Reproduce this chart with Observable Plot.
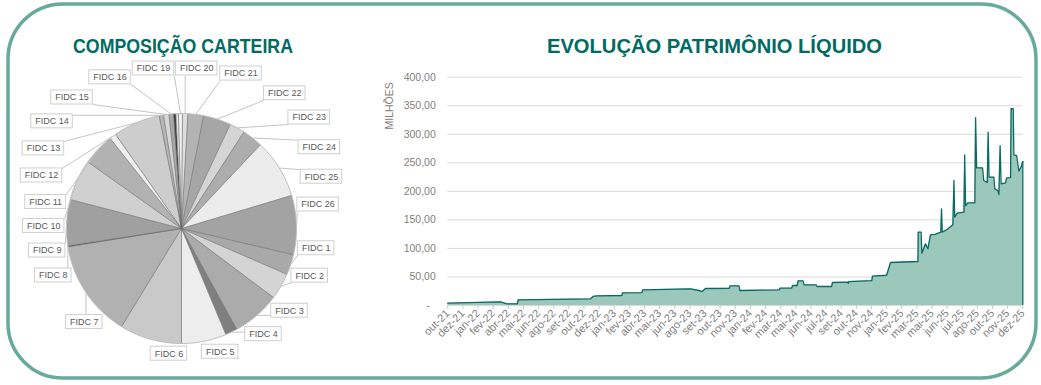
<!DOCTYPE html>
<html><head><meta charset="utf-8">
<script src="https://cdn.jsdelivr.net/npm/d3@7"></script>
<script src="https://cdn.jsdelivr.net/npm/@observablehq/plot@0.6"></script>
<style>
html,body{margin:0;padding:0;background:#fff;}
#root{position:relative;width:1041px;height:385px;overflow:hidden;font-family:"Liberation Sans",Arial,sans-serif;background:#fff;}
#pie{position:absolute;left:0;top:60px;}
#area{position:absolute;left:370px;top:60px;}
</style></head><body><div id="root"><div id="pie"></div><div id="area"></div></div>
<script>
// ---------------- DATA ----------------
// Portfolio composition (share of portfolio, %), in pie order
const fidcNames = ["FIDC 1","FIDC 2","FIDC 3","FIDC 4","FIDC 5","FIDC 6","FIDC 7","FIDC 8","FIDC 9","FIDC 10",
  "FIDC 11","FIDC 12","FIDC 13","FIDC 14","FIDC 15","FIDC 16","FIDC 17","FIDC 18","FIDC 19","FIDC 20",
  "FIDC 21","FIDC 22","FIDC 23","FIDC 24","FIDC 25","FIDC 26"];
const fidcShares = [2.86, 3.72, 6.78, 1.67, 6.31, 8.72, 13.72, 0.14, 6.47, 5.78,
  4.50, 0.94, 6.61, 0.61, 0.75, 0.64, 0.33, 0.36, 0.56, 0.75,
  2.19, 3.89, 2.17, 2.89, 8.33, 8.31];
const unlabelledFidc = ["FIDC 17","FIDC 18"];

// Net asset evolution (R$ millions); position along the category axis in tick-interval units
const plTickLabels = ["out-21","dez-21","jan-22","fev-22","abr-22","mai-22","jun-22","ago-22","set-22","out-22",
  "dez-22","jan-23","fev-23","abr-23","mai-23","jun-23","ago-23","set-23","out-23","nov-23",
  "jan-24","fev-24","mar-24","mai-24","jun-24","jul-24","set-24","out-24","nov-24","jan-25",
  "fev-25","mar-25","mai-25","jun-25","jul-25","ago-25","out-25","nov-25","dez-25"];
const plPos = [0,3.48,3.92,4.6,4.65,9.43,9.6,9.87,11.5,11.55,12.83,12.88,16.04,16.59,16.81,17.03,18.6,18.66,19.25,19.3,
  21.9,21.96,22.73,22.78,23.08,23.15,23.48,23.55,24.35,24.4,25.37,25.42,26.42,26.46,26.5,28.02,28.07,29.0,29.26,31.07,
  31.09,31.28,31.33,31.57,31.73,31.9,32.2,32.58,32.63,32.68,33.0,33.38,33.45,33.5,33.67,34.11,34.16,34.22,34.37,34.83,
  34.88,34.95,35.34,35.42,35.65,35.71,35.77,36.09,36.15,36.35,36.42,36.5,36.57,36.86,36.93,37.19,37.23,37.37,37.41,37.59,
  37.74,37.9,38.0];
const plValues = [4.1,6.4,2.9,2.9,9.9,11.7,15.8,17,17.5,22.2,22.5,27.4,29.2,26.3,24.5,29.8,30.2,34.5,34.5,26.3,
  27.4,30.4,30.4,35.0,35.0,43.2,43.2,36.2,36.0,33.3,33.3,40.3,40.9,38.5,42.0,43.5,51.4,53.0,75.3,77.1,
  128.5,128.5,91.7,108,99.3,123.8,124.5,128.5,169.3,128.5,133.2,141.4,219,154.8,161.8,163.5,264,174.6,179.8,180,
  329.3,241.1,241.1,219,215.5,303.7,224.8,224.8,204.3,201.4,194.4,280.2,213.2,215,223.6,224,344.7,344.7,264,262.8,
  235.4,243.6,252.3];
const yTicks = [0,50,100,150,200,250,300,350,400];

// ---------------- STYLE ----------------
const sliceGrays = ["#a9a9a9","#d4d4d4","#ababab","#7f7f7f","#ededed","#c9c9c9","#b1b1b1","#505050","#a0a0a0","#d0d0d0",
  "#b2b2b2","#efefef","#cdcdcd","#b5b5b5","#d8d8d8","#a8a8a8","#3c3c3c","#e6e6e6","#f2f2f2","#dedede",
  "#b3b3b3","#a6a6a6","#d5d5d5","#adadad","#ececec","#a3a3a3"];
const TEAL = "#006a63";
const FONT = "Liberation Sans, Arial, sans-serif";

const W = 1041, H = 385;
const root = document.getElementById("root");

// ---------------- PIE ----------------
const R = 115;
const START = 103.2 * Math.PI / 180;
const arcs = d3.pie().sort(null).value(d => d).startAngle(START).endAngle(START + 2 * Math.PI)(fidcShares);
const slices = arcs.map((a, i) => ({name: fidcNames[i], color: sliceGrays[i], a0: a.startAngle, a1: a.endAngle}));
const polyRows = [];
for (const s of slices) {
  polyRows.push({name: s.name, color: s.color, x: 0, y: 0});
  const n = Math.max(2, Math.ceil((s.a1 - s.a0) / (Math.PI / 360)));
  for (let k = 0; k <= n; k++) {
    const a = s.a0 + (s.a1 - s.a0) * k / n;
    polyRows.push({name: s.name, color: s.color, x: R * Math.sin(a), y: R * Math.cos(a)});
  }
}
const edges = slices.map(s => ({x2: R * Math.sin(s.a0), y2: R * Math.cos(s.a0)}));
const rim = d3.range(0, 361).map(d => ({x: R * Math.sin(d * Math.PI / 180), y: R * Math.cos(d * Math.PI / 180)}));

// label layout: spread labels angularly around the pie so that their boxes do not collide
const ctx = document.createElement("canvas").getContext("2d");
const LFS = 9;
ctx.font = `${LFS}px "Liberation Sans"`;
const PW = 360, PH = 320, CX = 181, CY = 168;
const xMin = -CX, xMax = PW - CX, yMin = -(PH - CY), yMax = CY;
const BH = 14;
const BIAS = -10 * Math.PI / 180;           // labels sit slightly counter-clockwise of their slices
const gapAt = t => 2 + 35 * Math.max(0, Math.min(1, (Math.cos(t) - 0.2) / 0.5));
const dist = (t, w) => R + gapAt(t) + Math.abs(Math.sin(t)) * w / 2 + Math.abs(Math.cos(t)) * BH / 2;
const labs = slices.filter(s => !unlabelledFidc.includes(s.name)).map(s => {
  const m = (s.a0 + s.a1) / 2;
  return {name: s.name, m, t: m + BIAS, a: m + BIAS, w: ctx.measureText(s.name).width + 8};
});
const needGap = (t, wa, wb) => {
  const d = (dist(t, wa) + dist(t, wb)) / 2;
  const c = Math.abs(Math.cos(t)) + 1e-6, s = Math.abs(Math.sin(t)) + 1e-6;
  return Math.min(((wa + wb) / 2 + 5) / (d * c), (BH + 11) / (d * s));
};
const N = labs.length;
for (let it = 0; it < 3000; it++) {
  for (const l of labs) l.a += 0.01 * (l.t - l.a);
  for (let i = 0; i < N; i++) {
    const A = labs[i], B = labs[(i + 1) % N];
    const bA = i === N - 1 ? B.a + 2 * Math.PI : B.a;
    const gap = bA - A.a;
    const need = needGap((A.a + bA) / 2, A.w, B.w);
    if (gap < need) { const s = (need - gap) / 2; A.a -= s; B.a += s; }
  }
}
const boxes = labs.map(l => {
  const d = dist(l.a, l.w);
  let x = d * Math.sin(l.a), y = d * Math.cos(l.a);
  x = Math.max(xMin + l.w / 2 + 2, Math.min(xMax - l.w / 2 - 2, x));
  y = Math.max(yMin + BH / 2 + 2, Math.min(yMax - BH / 2 - 1, y));
  return {name: l.name, m: l.m, w: l.w, x, y, x1: x - l.w / 2, x2: x + l.w / 2, y1: y - BH / 2, y2: y + BH / 2};
});
const leaders = boxes.map(b => {
  const ax = R * Math.sin(b.m), ay = R * Math.cos(b.m);
  const px = Math.max(b.x1, Math.min(ax, b.x2));
  const py = Math.max(b.y1, Math.min(ay, b.y2));
  return {x1: ax, y1: ay, x2: px, y2: py, len: Math.hypot(px - ax, py - ay)};
}).filter(d => d.len > 10);

const piePlot = Plot.plot({
  width: PW, height: PH, margin: 0,
  x: {domain: [xMin, xMax]}, y: {domain: [yMin, yMax]},
  color: {type: "identity"},
  axis: null,
  style: {background: "transparent", fontFamily: FONT, overflow: "visible"},
  marks: [
    Plot.line(polyRows, {x: "x", y: "y", z: "name", fill: "color", stroke: "none", curve: "linear"}),
    Plot.link(edges, {x1: 0, y1: 0, x2: "x2", y2: "y2", stroke: "#707070", strokeWidth: 0.7}),
    Plot.line(rim, {x: "x", y: "y", stroke: "#bdbdbd", strokeWidth: 1}),
    Plot.link(leaders, {x1: "x1", y1: "y1", x2: "x2", y2: "y2", stroke: "#c4c4c4", strokeWidth: 1}),
    Plot.rect(boxes, {x1: "x1", x2: "x2", y1: "y1", y2: "y2", fill: "white", stroke: "#cfcfcf", strokeWidth: 1}),
    Plot.text(boxes, {x: "x", y: "y", text: "name", fontSize: LFS, fill: "#595959"})
  ]
});
document.getElementById("pie").appendChild(piePlot);

// ---------------- AREA ----------------
const series = plPos.map((t, i) => ({t, v: plValues[i]}));
const fmtY = d => d === 0 ? "-\u2007" : d.toFixed(2).replace(".", ",");
const areaPlot = Plot.plot({
  width: 671, height: 325,
  marginLeft: 77.3, marginRight: 18.7, marginTop: 16.7, marginBottom: 80,
  x: {domain: [0, 38]}, y: {domain: [0, 400]},
  style: {background: "transparent", fontFamily: FONT, color: "#7f7f7f", overflow: "visible"},
  marks: [
    Plot.gridY(yTicks.filter(d => d > 0), {stroke: "#d9d9d9", strokeOpacity: 1, strokeWidth: 1}),
    Plot.areaY(series, {x: "t", y: "v", fill: "#9cc8bc"}),
    Plot.ruleY([0], {stroke: "#d9d9d9", strokeWidth: 1}),
    Plot.lineY(series, {x: "t", y: "v", stroke: "#0b6b62", strokeWidth: 1.3}),
    Plot.ruleX(series.slice(-1), {x: "t", y1: 0, y2: "v", stroke: "#0b6b62", strokeWidth: 1.3}),
    Plot.axisX(d3.range(plTickLabels.length), {tickFormat: i => plTickLabels[i], tickRotate: -45, tickSize: 4, tickPadding: 2, stroke: "#c8c8c8", fontSize: 11, label: null}),
    Plot.axisY(yTicks, {tickFormat: fmtY, tickSize: 0, tickPadding: 12, fontSize: 10.5, label: null}),
    Plot.text(["MILHÕES"], {frameAnchor: "top-left", rotate: -90, textAnchor: "end", lineAnchor: "middle", dx: -58, dy: 5, fontSize: 10.5, fill: "#7f7f7f"})
  ]
});
document.getElementById("area").appendChild(areaPlot);

// ---------------- FRAME & TITLES ----------------
const ov = d3.select(root).append("svg").attr("width", W).attr("height", H)
  .style("position", "absolute").style("left", 0).style("top", 0).style("pointer-events", "none");
ov.append("rect").attr("x", 8).attr("y", 4).attr("width", 1028).attr("height", 374).attr("rx", 55).attr("ry", 55)
  .attr("fill", "none").attr("stroke", "#66aa9a").attr("stroke-width", 3.5);
const titles = [
  {text: "COMPOSIÇÃO CARTEIRA", x: 73, len: 220},
  {text: "EVOLUÇÃO PATRIMÔNIO LÍQUIDO", x: 547, len: 335}
];
ov.selectAll("text.t").data(titles).join("text").attr("class", "t")
  .attr("x", d => d.x).attr("y", 53).attr("textLength", d => d.len).attr("lengthAdjust", "spacingAndGlyphs")
  .attr("fill", TEAL).attr("font-family", FONT).attr("font-weight", "bold").attr("font-size", 19.5)
  .text(d => d.text);
</script></body></html>
